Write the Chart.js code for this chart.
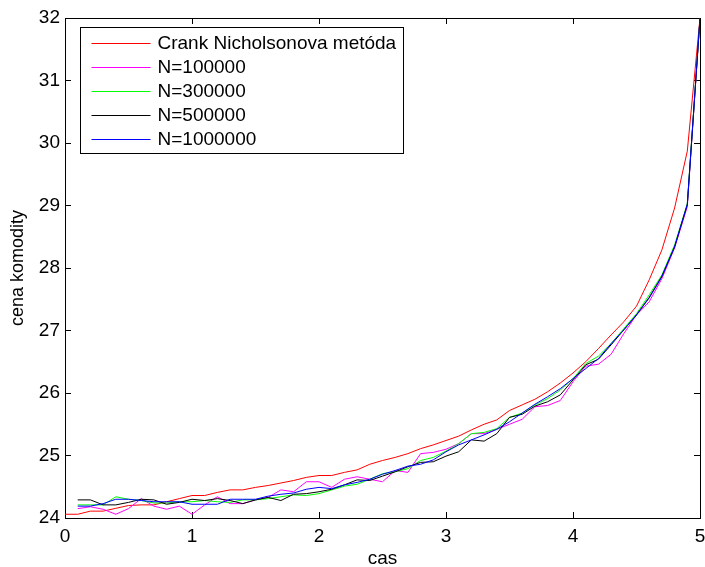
<!DOCTYPE html>
<html>
<head>
<meta charset="utf-8">
<title>cena komodity</title>
<script src="https://cdn.jsdelivr.net/npm/chart.js@4.4.1/dist/chart.umd.min.js"></script>
<style>
    body { margin: 0; background: #fff; }
    canvas { display: block; }
</style>
</head>
<body>
<canvas id="priceChart" width="705" height="567"></canvas>
<script>
// time grid (cas)
const times = [0, 0.1, 0.2, 0.3, 0.4, 0.5, 0.6, 0.7, 0.8, 0.9,
    1.0, 1.1, 1.2, 1.3, 1.4, 1.5, 1.6, 1.7, 1.8, 1.9,
    2.0, 2.1, 2.2, 2.3, 2.4, 2.5, 2.6, 2.7, 2.8, 2.9,
    3.0, 3.1, 3.2, 3.3, 3.4, 3.5, 3.6, 3.7, 3.8, 3.9,
    4.0, 4.1, 4.2, 4.3, 4.4, 4.5, 4.6, 4.7, 4.8, 4.9, 5.0];

// Crank-Nicholson solution, starts at t = 0
const crankNicholson = [24.06, 24.06, 24.11, 24.11, 24.155, 24.2, 24.21, 24.21, 24.26, 24.31,
    24.36, 24.36, 24.41, 24.45, 24.45, 24.49, 24.52, 24.56, 24.60, 24.65,
    24.68, 24.68, 24.73, 24.77, 24.86, 24.92, 24.97, 25.03, 25.11, 25.17,
    25.24, 25.31, 25.41, 25.50, 25.57, 25.72, 25.81, 25.90, 26.02, 26.16,
    26.32, 26.50, 26.71, 26.93, 27.14, 27.39, 27.81, 28.29, 28.96, 29.87, 32.0];

// Monte Carlo runs, start at t = 0.1
const mc100k = [24.15, 24.18, 24.14, 24.06, 24.15, 24.31, 24.19, 24.14, 24.19, 24.06,
    24.21, 24.34, 24.23, 24.23, 24.29, 24.33, 24.45, 24.42, 24.58, 24.58,
    24.49, 24.62, 24.66, 24.62, 24.58, 24.76, 24.73, 25.03, 25.05, 25.10,
    25.19, 25.35, 25.35, 25.42, 25.50, 25.58, 25.78, 25.80, 25.88, 26.18,
    26.43, 26.46, 26.62, 26.95, 27.25, 27.46, 27.83, 28.32, 28.98, 32.0];

const mc300k = [24.21, 24.21, 24.21, 24.34, 24.30, 24.28, 24.24, 24.24, 24.26, 24.26,
    24.28, 24.26, 24.25, 24.29, 24.29, 24.31, 24.34, 24.37, 24.36, 24.39,
    24.45, 24.51, 24.54, 24.62, 24.71, 24.74, 24.79, 24.92, 24.97, 25.07,
    25.19, 25.35, 25.37, 25.43, 25.61, 25.68, 25.81, 25.91, 26.05, 26.23,
    26.47, 26.59, 26.79, 27.03, 27.27, 27.57, 27.89, 28.37, 29.03, 32.0];

const mc500k = [24.29, 24.29, 24.21, 24.21, 24.25, 24.30, 24.29, 24.22, 24.25, 24.30,
    24.28, 24.31, 24.28, 24.23, 24.29, 24.33, 24.28, 24.38, 24.39, 24.42,
    24.46, 24.53, 24.61, 24.60, 24.67, 24.74, 24.82, 24.89, 24.90, 24.99,
    25.06, 25.25, 25.23, 25.35, 25.61, 25.66, 25.79, 25.86, 25.97, 26.21,
    26.45, 26.54, 26.77, 27.01, 27.25, 27.53, 27.87, 28.34, 29.02, 32.0];

const mc1m = [24.19, 24.19, 24.23, 24.30, 24.30, 24.28, 24.26, 24.26, 24.26, 24.22,
    24.22, 24.22, 24.30, 24.30, 24.30, 24.35, 24.38, 24.40, 24.46, 24.49,
    24.47, 24.53, 24.57, 24.62, 24.70, 24.76, 24.83, 24.86, 24.93, 25.06,
    25.17, 25.25, 25.33, 25.42, 25.54, 25.68, 25.82, 25.94, 26.07, 26.23,
    26.39, 26.55, 26.79, 27.01, 27.25, 27.52, 27.86, 28.34, 29.01, 32.0];

const seriesLabels = ['Crank Nicholsonova metóda', 'N=100000', 'N=300000', 'N=500000', 'N=1000000'];
const seriesColors = ['#ff0000', '#ff00ff', '#00ff00', '#000000', '#0000ff'];
const seriesValues = [crankNicholson, mc100k, mc300k, mc500k, mc1m];

const xTicks = [0, 1, 2, 3, 4, 5];
const yTicks = [24, 25, 26, 27, 28, 29, 30, 31, 32];

const FONT = "'Liberation Sans', Arial, Helvetica, sans-serif";
Chart.defaults.font.family = FONT;
Chart.defaults.color = '#000';

function toPoints(values) {
    // the MC runs have one value less, they begin at the second time step
    const offset = times.length - values.length;
    return values.map((v, i) => ({ x: times[i + offset], y: v }));
}

const datasets = seriesValues.map((values, i) => ({
    label: seriesLabels[i],
    data: toPoints(values),
    borderColor: seriesColors[i],
    backgroundColor: seriesColors[i],
    borderWidth: 1,
    pointRadius: 0,
    tension: 0,
    fill: false,
    order: seriesValues.length - i   // later series drawn on top
}));

// boxed legend in the upper left corner of the axes
const boxLegend = {
    id: 'boxLegend',
    afterDraw(chart) {
        const ctx = chart.ctx;
        const area = chart.chartArea;
        const left = Math.round(area.left + 15) + 0.5;
        const top = Math.round(area.top + 9) + 0.5;
        const width = 323;
        const rowH = 24;
        const height = 15 * 2 + rowH * (seriesLabels.length - 1);

        ctx.save();
        ctx.fillStyle = '#fff';
        ctx.fillRect(left, top, width, height);
        ctx.strokeStyle = '#000';
        ctx.lineWidth = 1;
        ctx.strokeRect(left, top, width, height);

        ctx.font = '19px ' + FONT;
        ctx.textBaseline = 'middle';
        ctx.textAlign = 'left';
        seriesLabels.forEach((label, i) => {
            const y = Math.round(top + 15 + i * rowH);
            ctx.strokeStyle = seriesColors[i];
            ctx.beginPath();
            ctx.moveTo(left + 11, y + 0.5);
            ctx.lineTo(left + 70, y + 0.5);
            ctx.stroke();
            ctx.fillStyle = '#000';
            ctx.fillText(label, left + 77, y + 1);
        });
        ctx.restore();
    }
};

function fixSize(prop, size) {
    return function(scale) {
        scale[prop] = size;
        scale.paddingLeft = 0;
        scale.paddingRight = 0;
        scale.paddingTop = 0;
        scale.paddingBottom = 0;
    };
}

const inwardTicks = {
    display: true,
    drawOnChartArea: false,
    drawTicks: true,
    tickLength: -6,
    color: '#000',
    tickColor: '#000',
    tickWidth: 1
};

new Chart(document.getElementById('priceChart'), {
    type: 'line',
    data: { datasets: datasets },
    options: {
        responsive: false,
        animation: false,
        layout: { padding: { top: 18, right: 5, bottom: 0, left: 0 } },
        plugins: {
            legend: { display: false },
            tooltip: { enabled: false }
        },
        scales: {
            x: {
                type: 'linear',
                position: 'bottom',
                min: xTicks[0],
                max: xTicks[xTicks.length - 1],
                afterBuildTicks: s => { s.ticks = xTicks.map(v => ({ value: v })); },
                ticks: { font: { size: 19 }, padding: 13, maxRotation: 0 },
                grid: inwardTicks,
                border: { display: true, color: '#000', width: 1 },
                title: { display: true, text: 'cas', font: { size: 19, lineHeight: 0.7 }, padding: { top: 0, bottom: 1.4 } },
                afterFit: fixSize('height', 49)
            },
            x2: {
                type: 'linear',
                position: 'top',
                min: xTicks[0],
                max: xTicks[xTicks.length - 1],
                afterBuildTicks: s => { s.ticks = xTicks.map(v => ({ value: v })); },
                ticks: { display: false },
                grid: inwardTicks,
                border: { display: true, color: '#000', width: 1 },
                afterFit: fixSize('height', 0)
            },
            y: {
                type: 'linear',
                position: 'left',
                min: yTicks[0],
                max: yTicks[yTicks.length - 1],
                afterBuildTicks: s => { s.ticks = yTicks.map(v => ({ value: v })); },
                ticks: { font: { size: 19 }, padding: 11 },
                grid: inwardTicks,
                border: { display: true, color: '#000', width: 1 },
                title: { display: true, text: 'cena komodity', font: { size: 18, lineHeight: 1 }, padding: { top: 9, bottom: 0 } },
                afterFit: fixSize('width', 65)
            },
            y2: {
                type: 'linear',
                position: 'right',
                min: yTicks[0],
                max: yTicks[yTicks.length - 1],
                afterBuildTicks: s => { s.ticks = yTicks.map(v => ({ value: v })); },
                ticks: { display: false },
                grid: inwardTicks,
                border: { display: true, color: '#000', width: 1 },
                afterFit: fixSize('width', 0)
            }
        }
    },
    plugins: [boxLegend]
});
</script>
</body>
</html>
